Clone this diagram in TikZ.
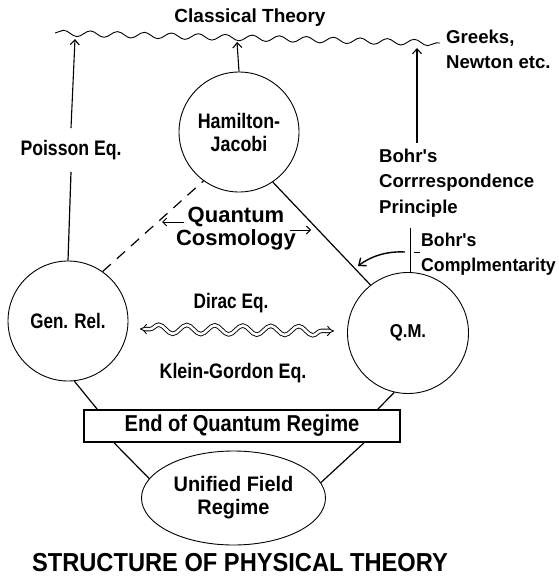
\documentclass[tikz,border=0pt]{standalone}
\usepackage{fontspec}
\usepackage{graphicx}
\setmainfont{Liberation Sans}
\usetikzlibrary{arrows.meta,decorations.pathmorphing,shapes.geometric}
\newcommand{\sx}[2]{\scalebox{#1}[1]{#2}}
\begin{document}
\begin{tikzpicture}[x=1pt,y=-1pt,
  circ/.style={circle,draw,line width=0.9pt,inner sep=0pt,align=center},
  conn/.style={line width=1.2pt},
  arr/.style={line width=1.1pt,-{Straight Barb[length=5pt,width=9pt]}},
  lbl/.style={inner sep=0pt,align=center},
  fA/.style={font=\fontsize{21}{23}\selectfont\bfseries},
  fB/.style={font=\fontsize{18.6}{25}\selectfont\bfseries},
]
\useasboundingbox (0,0) rectangle (558,578);

% wavy top line and arrow end points
\coordinate (wl) at (55,33);
\coordinate (wr) at (440,43);
\coordinate (cl1) at (75,39);
\coordinate (cl2) at (237,42);
\coordinate (cl3) at (417,48);
\draw[line width=0.9pt,decorate,decoration={snake,amplitude=3pt,segment length=27pt}] (wl) -- (wr);

\node[lbl,font=\fontsize{19}{25}\selectfont\bfseries] (ct) at (250,18) {Classical Theory};
\node[lbl,fB,anchor=west,align=left] (gk) at (446,49) {Greeks,\\Newton etc.};

% main nodes
\node[circ,minimum size=120pt,fA] (gr) at (68,321) {\sx{.81}{Gen. Rel.}};
\node[circ,minimum size=120pt,fA] (hj) at (239,132) {\sx{.85}{Hamilton-}\\\sx{.85}{Jacobi}};
\node[circ,minimum size=121pt,fB] (qm) at (408,333) {\sx{.9}{Q.M.}};
\node[draw,line width=1.8pt,minimum width=316pt,minimum height=32pt,inner sep=0pt,
      font=\fontsize{23}{24}\selectfont\bfseries] (eqr) at (242,426) {\sx{.875}{End of Quantum Regime}};
\node[ellipse,draw,line width=0.9pt,minimum width=184pt,minimum height=94pt,inner sep=0pt,
      align=center,fA] (uf) at (233.5,498) {\sx{.95}{Unified Field}\\\sx{.95}{Regime}};

% labels
\node[lbl,fA,fill=white,inner ysep=12pt] (po) at (71,150) {\sx{.84}{Poisson Eq.}};
\node[lbl,fB,anchor=west,align=left,inner ysep=6pt,font=\fontsize{18.6}{25.5}\selectfont\bfseries] (bcp) at (379,183)
  {Bohr\textquotesingle s\\Corrrespondence\\Principle};
\node[lbl,fB,anchor=west,align=left] (bct) at (421,254.5)
  {\sx{.95}{Bohr\textquotesingle s}\\\sx{.95}{Complmentarity}};
\node[lbl,font=\fontsize{22}{23}\selectfont\bfseries] (qc) at (236,228.5) {Quantum\\Cosmology};
\node[lbl,fA] (de) at (231,303) {\sx{.82}{Dirac Eq.}};
\node[lbl,fA] (kg) at (233,373) {\sx{.85}{Klein-Gordon Eq.}};
\node[lbl,font=\fontsize{26}{28}\selectfont\bfseries] (tt) at (240,562.5) {\sx{.91}{STRUCTURE OF PHYSICAL THEORY}};

% arrows to classical theory
\draw[conn] (gr.north) -- (po.south);
\draw[arr] (po.north) -- (cl1);
\draw[arr] (hj.north) -- (cl2);
\draw[arr] (bcp.north -| cl3) -- (cl3);

% triangle edges
\draw[conn,dashed,dash pattern=on 11pt off 8pt] (gr.55) -- (hj.234);
\draw[conn] (hj.304) -- (qm.128);
\draw[conn] (gr.276) -- ([xshift=14pt]eqr.north west);
\draw[conn] (qm.257.6) -- ([xshift=-23pt]eqr.north east);
\draw[conn] ([xshift=31pt]eqr.south west) -- (uf.167);
\draw[conn] ([xshift=-37pt]eqr.south east) -- (uf.10.5);

% quantum cosmology arrows
\coordinate (qa1) at (184,222);
\coordinate (qa2) at (162,222);
\coordinate (qa3) at (290,230);
\coordinate (qa4) at (311,230);
\draw[line width=1pt,-{Straight Barb[length=4pt,width=8pt]}] (qa1) -- (qa2);
\draw[line width=1pt,-{Straight Barb[length=4pt,width=8pt]}] (qa3) -- (qa4);

% Bohr complementarity
\coordinate (bc1) at (410,228);
\coordinate (bc2) at (405,252);
\coordinate (bc4) at (358,266);
\coordinate (bc5) at (414,252);
\coordinate (bc6) at (420,252);
\draw[line width=0.8pt] (bc1) -- (bc1 |- qm.north);
\draw[line width=1.4pt,-{Straight Barb[length=6pt,width=10pt]}] (bc2) .. controls (385,251) and (370,257) .. (bc4);
\draw[line width=0.8pt] (bc5) -- (bc6);

% Dirac / Klein-Gordon wavy double arrow
\coordinate (dl) at (140,329);
\coordinate (dr) at (334,331);
\draw[line width=0.9pt,double,double distance=2.6pt,{Implies[length=8pt]}-{Implies[length=8pt]},decorate,
      decoration={snake,amplitude=4.5pt,segment length=28pt,pre length=10pt,post length=10pt}] (dl) -- (dr);
\end{tikzpicture}
\end{document}
